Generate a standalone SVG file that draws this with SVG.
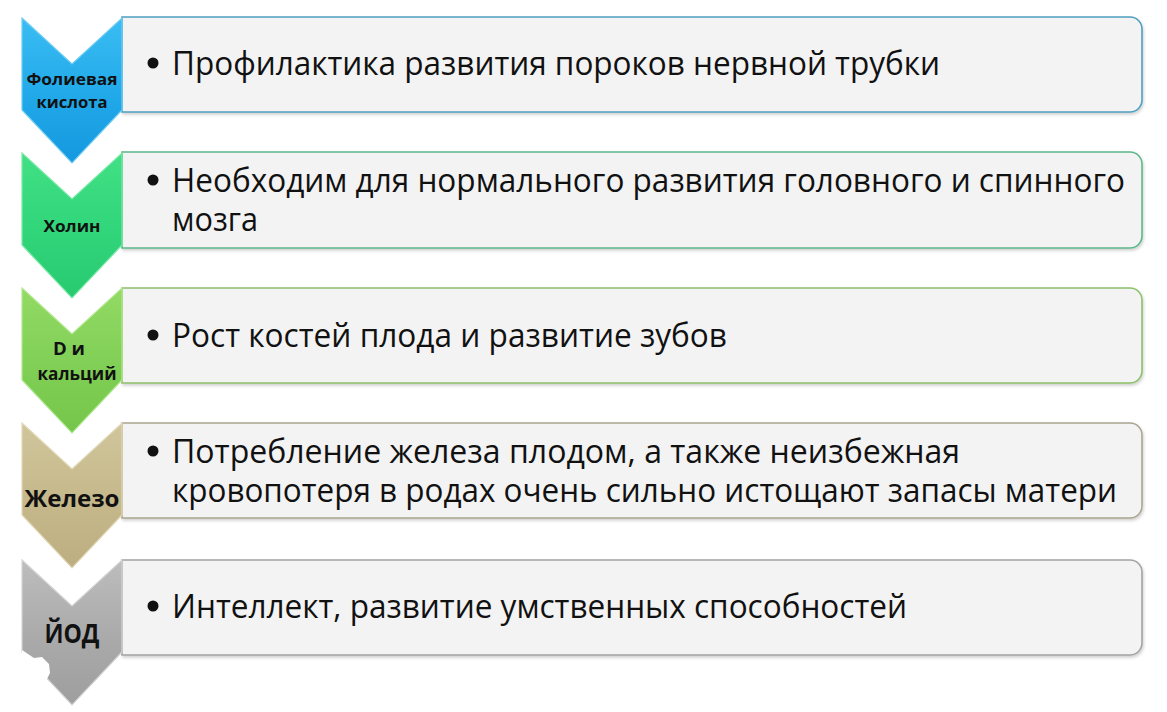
<svg xmlns="http://www.w3.org/2000/svg" xmlns:xlink="http://www.w3.org/1999/xlink" width="1167" height="712" viewBox="0 0 1167 712">
<style>
.box{fill:#f3f3f3;stroke-width:1.6;filter:url(#sh)}
.txt{font-family:"Open Sans","Liberation Sans",sans-serif;font-size:32px;fill:#111}
.lbl{font-family:"Open Sans","Liberation Sans",sans-serif;font-weight:bold;fill:#111;text-anchor:middle}
.bul{fill:#111}
.chev{stroke-width:1.2;stroke-linejoin:miter}
</style>
<defs>
<filter id="sh" x="-5%" y="-10%" width="110%" height="130%">
<feDropShadow dx="1" dy="2" stdDeviation="1.5" flood-color="#000" flood-opacity="0.18"/>
</filter>
<path id="chev" d="M22,0 L72,46 L122,0 L122,92 L72,145 L22,92 Z"/>
<linearGradient id="g1" x1="0" y1="0" x2="0" y2="1"><stop offset="0" stop-color="#3bbdf3"/><stop offset="0.5" stop-color="#22aaea"/><stop offset="1" stop-color="#1598df"/></linearGradient>
<linearGradient id="g2" x1="0" y1="0" x2="0" y2="1"><stop offset="0" stop-color="#42e085"/><stop offset="0.5" stop-color="#32d67b"/><stop offset="1" stop-color="#28ca70"/></linearGradient>
<linearGradient id="g3" x1="0" y1="0" x2="0" y2="1"><stop offset="0" stop-color="#92da64"/><stop offset="0.5" stop-color="#82d057"/><stop offset="1" stop-color="#74c64a"/></linearGradient>
<linearGradient id="g4" x1="0" y1="0" x2="0" y2="1"><stop offset="0" stop-color="#d0c59c"/><stop offset="0.5" stop-color="#c6b98c"/><stop offset="1" stop-color="#bcae80"/></linearGradient>
<linearGradient id="g5" x1="0" y1="0" x2="0" y2="1"><stop offset="0" stop-color="#bdbdbd"/><stop offset="0.5" stop-color="#ababab"/><stop offset="1" stop-color="#9e9e9e"/></linearGradient>
</defs>
<rect width="1167" height="712" fill="#ffffff"/>

<g id="row1">
<path class="box" stroke="#4f9fc0" d="M122,17 H1130 A12,12 0 0 1 1142,29 V100 A12,12 0 0 1 1130,112 H122 Z"/>
<use xlink:href="#chev" href="#chev" y="18" class="chev" fill="url(#g1)" stroke="#6fcdf3"/>
<text class="lbl" x="72" y="85" font-size="16" textLength="91" lengthAdjust="spacingAndGlyphs">Фолиевая</text>
<text class="lbl" x="72" y="108" font-size="16" textLength="71" lengthAdjust="spacingAndGlyphs">кислота</text>
<circle class="bul" cx="153" cy="63" r="5.5"/>
<text class="txt" x="172" y="75" textLength="768" lengthAdjust="spacingAndGlyphs">Профилактика развития пороков нервной трубки</text>
</g>

<g id="row2">
<path class="box" stroke="#5cb889" d="M122,152 H1130 A12,12 0 0 1 1142,164 V236 A12,12 0 0 1 1130,248 H122 Z"/>
<use xlink:href="#chev" href="#chev" y="153" class="chev" fill="url(#g2)" stroke="#7aeaa8"/>
<text class="lbl" x="72" y="232" font-size="16" textLength="57" lengthAdjust="spacingAndGlyphs">Холин</text>
<circle class="bul" cx="153" cy="180" r="5.5"/>
<text class="txt" x="172" y="192" textLength="953" lengthAdjust="spacingAndGlyphs">Необходим для нормального развития головного и спинного</text>
<text class="txt" x="172" y="231" textLength="86" lengthAdjust="spacingAndGlyphs">мозга</text>
</g>

<g id="row3">
<path class="box" stroke="#8cc06a" d="M122,288 H1130 A12,12 0 0 1 1142,300 V371 A12,12 0 0 1 1130,383 H122 Z"/>
<use xlink:href="#chev" href="#chev" y="288" class="chev" fill="url(#g3)" stroke="#b2e890"/>
<text class="lbl" x="69" y="355" font-size="18" textLength="32" lengthAdjust="spacingAndGlyphs">D и</text>
<text class="lbl" x="77" y="380" font-size="18" textLength="79" lengthAdjust="spacingAndGlyphs">кальций</text>
<circle class="bul" cx="153" cy="335" r="5.5"/>
<text class="txt" x="172" y="347" textLength="555" lengthAdjust="spacingAndGlyphs">Рост костей плода и развитие зубов</text>
</g>

<g id="row4">
<path class="box" stroke="#aaa590" d="M122,423 H1130 A12,12 0 0 1 1142,435 V506 A12,12 0 0 1 1130,518 H122 Z"/>
<use xlink:href="#chev" href="#chev" y="423" class="chev" fill="url(#g4)" stroke="#e2d9b8"/>
<text class="lbl" x="72" y="507" font-size="24" textLength="95" lengthAdjust="spacingAndGlyphs">Железо</text>
<circle class="bul" cx="153" cy="451" r="5.5"/>
<text class="txt" x="172" y="463" textLength="788" lengthAdjust="spacingAndGlyphs">Потребление железа плодом, а также неизбежная</text>
<text class="txt" x="172" y="502" textLength="945" lengthAdjust="spacingAndGlyphs">кровопотеря в родах очень сильно истощают запасы матери</text>
</g>

<g id="row5">
<path class="box" stroke="#a3a3a3" d="M122,560 H1130 A12,12 0 0 1 1142,572 V643 A12,12 0 0 1 1130,655 H122 Z"/>
<use xlink:href="#chev" href="#chev" y="560" class="chev" fill="url(#g5)" stroke="#d4d4d4"/>
<path d="M22,650 L34,658 L42,657 L49,664 L50,673 L46,681 L36,678 L30,670 L22,668 Z" fill="#ffffff"/>
<text class="lbl" x="72" y="643" font-size="26" textLength="55" lengthAdjust="spacingAndGlyphs">ЙОД</text>
<circle class="bul" cx="153" cy="606" r="5.5"/>
<text class="txt" x="172" y="618" textLength="735" lengthAdjust="spacingAndGlyphs">Интеллект, развитие умственных способностей</text>
</g>

<g id="connectors"></g>
</svg>
